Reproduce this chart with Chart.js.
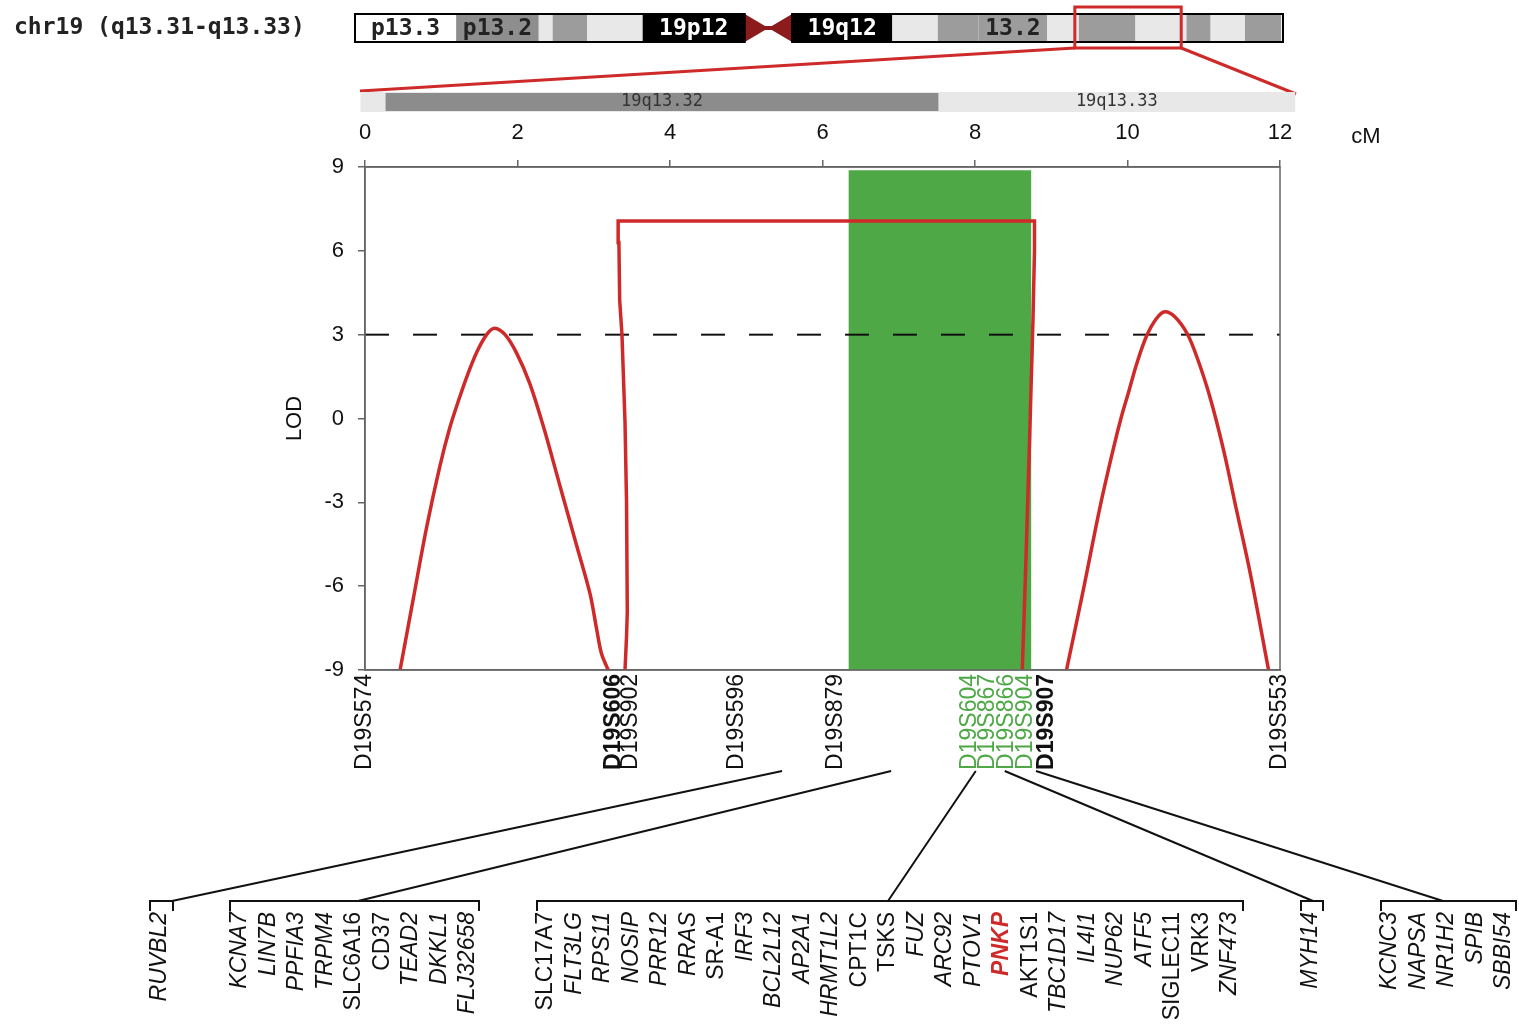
<!DOCTYPE html>
<html>
<head>
<meta charset="utf-8">
<script src="https://cdn.jsdelivr.net/npm/chart.js@4.4.1/dist/chart.umd.min.js"></script>
<style>
html, body { margin: 0; padding: 0; background: #fff; }
#wrap { width: 1519px; height: 1033px; position: relative; }
</style>
</head>
<body>
<div id="wrap"><canvas id="lodChart"></canvas></div>
<script>
// markers along the bottom of the LOD plot (cM)
const markerNames = ['D19S574', 'D19S606', 'D19S902', 'D19S596', 'D19S879', 'D19S604', 'D19S867', 'D19S866', 'D19S904', 'D19S907', 'D19S553'];
const markerCM = [0, 3.26, 3.48, 4.88, 6.17, 7.93, 8.17, 8.42, 8.67, 8.94, 12.0];
const boldMarkers = ['D19S606', 'D19S907'];
const greenMarkers = ['D19S604', 'D19S867', 'D19S866', 'D19S904'];

// LOD curves
const peak1CM = [0.46, 0.63, 0.81, 0.98, 1.11, 1.24, 1.35, 1.47, 1.60, 1.70, 1.84, 1.99, 2.16, 2.34, 2.56, 2.78, 2.95, 3.04, 3.10, 3.17, 3.19];
const peak1LOD = [-9, -6.5, -3.87, -1.73, -0.35, 0.75, 1.6, 2.4, 3.02, 3.23, 2.99, 2.33, 1.26, -0.29, -2.44, -4.59, -6.26, -7.57, -8.4, -8.88, -9];
const stepCM = [3.41, 3.43, 3.44, 3.43, 3.41, 3.37, 3.34, 3.33, 3.32, 8.78, 8.78, 8.76, 8.71, 8.67, 8.62];
const stepLOD = [-9, -7.8, -6.9, -3, -0.13, 3.0, 4.24, 6.3, 7.07, 7.07, 6, 3.5, -1.3, -4.9, -9];
const peak2CM = [9.20, 9.42, 9.64, 9.81, 9.92, 10.01, 10.12, 10.25, 10.38, 10.49, 10.62, 10.78, 10.91, 11.08, 11.26, 11.43, 11.61, 11.85];
const peak2LOD = [-9, -6.14, -3.16, -1.13, 0.06, 0.9, 1.95, 2.95, 3.58, 3.82, 3.64, 3.05, 2.2, 0.78, -1.13, -3.28, -5.54, -9];
const thresholdLOD = 3;
const intervalCM = [6.34, 8.74];
const topTicks = [0, 2, 4, 6, 8, 10, 12];
const lodTicks = [-9, -6, -3, 0, 3, 6, 9];

// chr19 ideogram, band edges as fraction of the chromosome
const chromBandStart = [0, 0.109, 0.198, 0.213, 0.25, 0.31, 0.42, 0.471, 0.579, 0.628, 0.672, 0.746, 0.780, 0.841, 0.896, 0.922, 0.959];
const chromBandEnd = [0.109, 0.198, 0.213, 0.25, 0.31, 0.42, 0.471, 0.579, 0.628, 0.672, 0.746, 0.780, 0.841, 0.896, 0.922, 0.959, 0.998];
const chromBandStain = ['gneg', 'gpos75', 'gpos25', 'gpos50', 'gpos25', 'gpos100', 'acen', 'gpos100', 'gpos25', 'gpos50', 'gpos50', 'gpos25', 'gpos50', 'gpos25', 'gpos50', 'gpos25', 'gpos50'];
const chromBandName = ['p13.3', 'p13.2', '', '', '', '19p12', '', '19q12', '', '', '13.2', '', '', '', '', '', ''];
const zoomWindow = [0.780, 0.886];

// q13.32 / q13.33 sub bands in cM
const subBandStart = [-0.06, 0.27];
const subBandEnd = [12.2, 7.52];
const subBandName = ['19q13.33', '19q13.32'];

// genes under the linked region
const genesA = ['RUVBL2'];
const genesB = ['KCNA7', 'LIN7B', 'PPFIA3', 'TRPM4', 'SLC6A16', 'CD37', 'TEAD2', 'DKKL1', 'FLJ32658'];
const genesC = ['SLC17A7', 'FLT3LG', 'RPS11', 'NOSIP', 'PRR12', 'RRAS', 'SR-A1', 'IRF3', 'BCL2L12', 'AP2A1', 'HRMT1L2', 'CPT1C', 'TSKS', 'FUZ', 'ARC92', 'PTOV1', 'PNKP', 'AKT1S1', 'TBC1D17', 'IL4I1', 'NUP62', 'ATF5', 'SIGLEC11', 'VRK3', 'ZNF473'];
const genesD = ['MYH14'];
const genesE = ['KCNC3', 'NAPSA', 'NR1H2', 'SPIB', 'SBBI54'];
const geneHookCM = [5.47, 6.9, 8.01, 8.39, 8.8];
const uprightGenes = ['SLC6A16', 'CD37', 'SLC17A7', 'SR-A1', 'CPT1C', 'TSKS', 'AKT1S1', 'SIGLEC11', 'VRK3'];
const candidateGene = 'PNKP';

const RED = '#cf2a2a';
const GREEN = '#4ea846';
const FONT = '"Liberation Sans", Arial, sans-serif';
const MONO = '"DejaVu Sans Mono", monospace';
const stainColor = { gneg: '#ffffff', gpos25: '#e8e8e8', gpos50: '#9c9c9c', gpos75: '#8e8e8e', gpos100: '#000000', acen: '#8c1c1c' };

Chart.defaults.font.family = FONT;
Chart.defaults.color = '#111';

const pts = (xs, ys) => xs.map((x, i) => ({ x: x, y: ys[i] }));

const decor = {
  id: 'decor',
  afterDraw(chart) {
    const ctx = chart.ctx;
    const xs = chart.scales.x;
    const a = chart.chartArea;
    ctx.save();

    // right border of the plot box
    ctx.strokeStyle = '#666';
    ctx.lineWidth = 1.5;
    ctx.strokeRect(a.left, a.top, a.right - a.left, a.bottom - a.top);

    // ideogram
    const cL = 355, cR = 1283, cT = 14, cB = 42;
    const fx = f => cL + f * (cR - cL);
    ctx.font = 'bold 23px ' + MONO;
    ctx.textBaseline = 'middle';
    ctx.fillStyle = '#222';
    ctx.textAlign = 'left';
    ctx.fillText('chr19 (q13.31-q13.33)', 14, 28);
    for (let i = 0; i < chromBandStart.length; i++) {
      const x0 = fx(chromBandStart[i]), x1 = fx(chromBandEnd[i]);
      ctx.fillStyle = stainColor[chromBandStain[i]];
      if (chromBandStain[i] === 'acen') {
        const m = (x0 + x1) / 2;
        ctx.beginPath();
        ctx.moveTo(x0, cT); ctx.lineTo(m, (cT + cB) / 2); ctx.lineTo(x0, cB); ctx.closePath();
        ctx.moveTo(x1, cT); ctx.lineTo(m, (cT + cB) / 2); ctx.lineTo(x1, cB); ctx.closePath();
        ctx.fill();
        ctx.fillRect(x0, (cT + cB) / 2 - 2, x1 - x0, 4);
      } else {
        ctx.fillRect(x0, cT, x1 - x0, cB - cT);
      }
    }
    ctx.strokeStyle = '#000';
    ctx.lineWidth = 2;
    const cen = chromBandStain.indexOf('acen');
    ctx.strokeRect(cL, cT, fx(chromBandStart[cen]) - cL, cB - cT);
    ctx.strokeRect(fx(chromBandEnd[cen]), cT, cR - fx(chromBandEnd[cen]), cB - cT);
    ctx.font = 'bold 23px ' + MONO;
    ctx.textAlign = 'center';
    for (let i = 0; i < chromBandName.length; i++) {
      if (!chromBandName[i]) continue;
      ctx.fillStyle = chromBandStain[i] === 'gpos100' ? '#fff' : '#222';
      ctx.fillText(chromBandName[i], (fx(chromBandStart[i]) + fx(chromBandEnd[i])) / 2, (cT + cB) / 2 + 1);
    }

    // zoom box and guide lines
    const zL = fx(zoomWindow[0]) - 4, zR = fx(zoomWindow[1]) + 4;
    ctx.strokeStyle = RED;
    ctx.lineWidth = 3;
    ctx.strokeRect(zL, 7, zR - zL, 41);
    ctx.beginPath();
    ctx.moveTo(zL, 48); ctx.lineTo(360, 91);
    ctx.moveTo(zR, 48); ctx.lineTo(1296, 94);
    ctx.stroke();

    // sub band strip
    ctx.font = '17px ' + MONO;
    for (let i = 0; i < subBandName.length; i++) {
      const x0 = xs.getPixelForValue(subBandStart[i]), x1 = xs.getPixelForValue(subBandEnd[i]);
      ctx.fillStyle = i === 0 ? '#e8e8e8' : '#8c8c8c';
      if (i === 0) ctx.fillRect(x0, 92, x1 - x0, 20);
      else ctx.fillRect(x0, 93, x1 - x0, 18);
    }
    ctx.fillStyle = '#333';
    ctx.fillText(subBandName[1], (xs.getPixelForValue(subBandStart[1]) + xs.getPixelForValue(subBandEnd[1])) / 2, 102);
    ctx.fillText(subBandName[0], (xs.getPixelForValue(subBandEnd[1]) + xs.getPixelForValue(subBandEnd[0])) / 2, 102);

    // cM unit label
    ctx.font = '22px ' + FONT;
    ctx.fillStyle = '#111';
    ctx.fillText('cM', 1366, 137);

    // gene groups
    const layout = [
      { genes: genesA, x0: 160, br: [150, 173], hook: 172 },
      { genes: genesB, x0: 240, br: [230, 479], hook: 358 },
      { genes: genesC, x0: 546, br: [537, 1243], hook: 888 },
      { genes: genesD, x0: 1311, br: [1301, 1323], hook: 1313 },
      { genes: genesE, x0: 1390, br: [1381, 1516], hook: 1443 }
    ];
    const step = 28.5, brY = 901;
    ctx.strokeStyle = '#111';
    ctx.lineWidth = 2;
    layout.forEach((g, k) => {
      ctx.beginPath();
      ctx.moveTo(xs.getPixelForValue(geneHookCM[k]), 771);
      ctx.lineTo(g.hook, brY);
      ctx.moveTo(g.br[0], brY + 10); ctx.lineTo(g.br[0], brY); ctx.lineTo(g.br[1], brY); ctx.lineTo(g.br[1], brY + 10);
      ctx.stroke();
      g.genes.forEach((name, j) => {
        const isCand = name === candidateGene;
        const style = uprightGenes.includes(name) ? '' : 'italic ';
        ctx.font = style + (isCand ? 'bold ' : '') + '23px ' + FONT;
        ctx.fillStyle = isCand ? RED : '#111';
        ctx.save();
        ctx.translate(g.x0 + j * step, 912);
        ctx.rotate(-Math.PI / 2);
        ctx.textAlign = 'right';
        ctx.textBaseline = 'middle';
        ctx.fillText(name, 0, 0);
        ctx.restore();
      });
    });
    ctx.restore();
  }
};

new Chart(document.getElementById('lodChart'), {
  type: 'line',
  data: {
    datasets: [
      { data: pts(intervalCM, [8.88, 8.88]), fill: { value: -9 }, backgroundColor: GREEN, borderWidth: 0, pointRadius: 0, order: 4 },
      { data: pts([0, 12], [thresholdLOD, thresholdLOD]), borderColor: '#111', borderWidth: 2, borderDash: [24, 24], pointRadius: 0, fill: false, order: 3 },
      { data: pts(peak1CM, peak1LOD), borderColor: RED, borderWidth: 3.5, pointRadius: 0, fill: false, tension: 0.35, order: 1 },
      { data: pts(stepCM, stepLOD), borderColor: RED, borderWidth: 3.5, pointRadius: 0, fill: false, tension: 0, order: 1 },
      { data: pts(peak2CM, peak2LOD), borderColor: RED, borderWidth: 3.5, pointRadius: 0, fill: false, tension: 0.35, order: 1 }
    ]
  },
  options: {
    responsive: true,
    maintainAspectRatio: false,
    animation: false,
    layout: { padding: { left: 278, right: 239, top: 0, bottom: 0 } },
    plugins: { legend: { display: false }, tooltip: { enabled: false } },
    scales: {
      x: {
        type: 'linear', position: 'bottom', min: 0, max: 12,
        afterBuildTicks: s => { s.ticks = markerCM.map(v => ({ value: v })); },
        afterFit: s => { s.height = 363; },
        grid: { display: false, drawTicks: false },
        border: { display: true, color: '#666', width: 1.5 },
        ticks: {
          autoSkip: false, minRotation: 90, maxRotation: 90, padding: 4,
          callback: (v, i) => markerNames[i],
          font: c => ({ size: 23, family: FONT, weight: boldMarkers.includes(markerNames[c.index]) ? 'bold' : 'normal' }),
          color: c => greenMarkers.includes(markerNames[c.index]) ? GREEN : '#111'
        }
      },
      x2: {
        type: 'linear', position: 'top', min: 0, max: 12,
        afterBuildTicks: s => { s.ticks = topTicks.map(v => ({ value: v })); },
        afterFit: s => { s.height = 167; },
        grid: { drawOnChartArea: false, tickLength: 7, color: '#666', lineWidth: 1.5 },
        border: { display: true, color: '#666', width: 1.5 },
        ticks: { padding: 14, font: { size: 22 }, color: '#111' }
      },
      y: {
        type: 'linear', position: 'left', min: -9, max: 9,
        afterBuildTicks: s => { s.ticks = lodTicks.map(v => ({ value: v })); },
        afterFit: s => { s.width = 87; },
        grid: { drawOnChartArea: false, tickLength: 7, color: '#666', lineWidth: 1.5 },
        border: { display: true, color: '#666', width: 1.5 },
        ticks: { padding: 14, font: { size: 22 }, color: '#111' },
        title: { display: true, text: 'LOD', font: { size: 22 }, color: '#111', padding: 4 }
      }
    }
  },
  plugins: [decor]
});
</script>
</body>
</html>
